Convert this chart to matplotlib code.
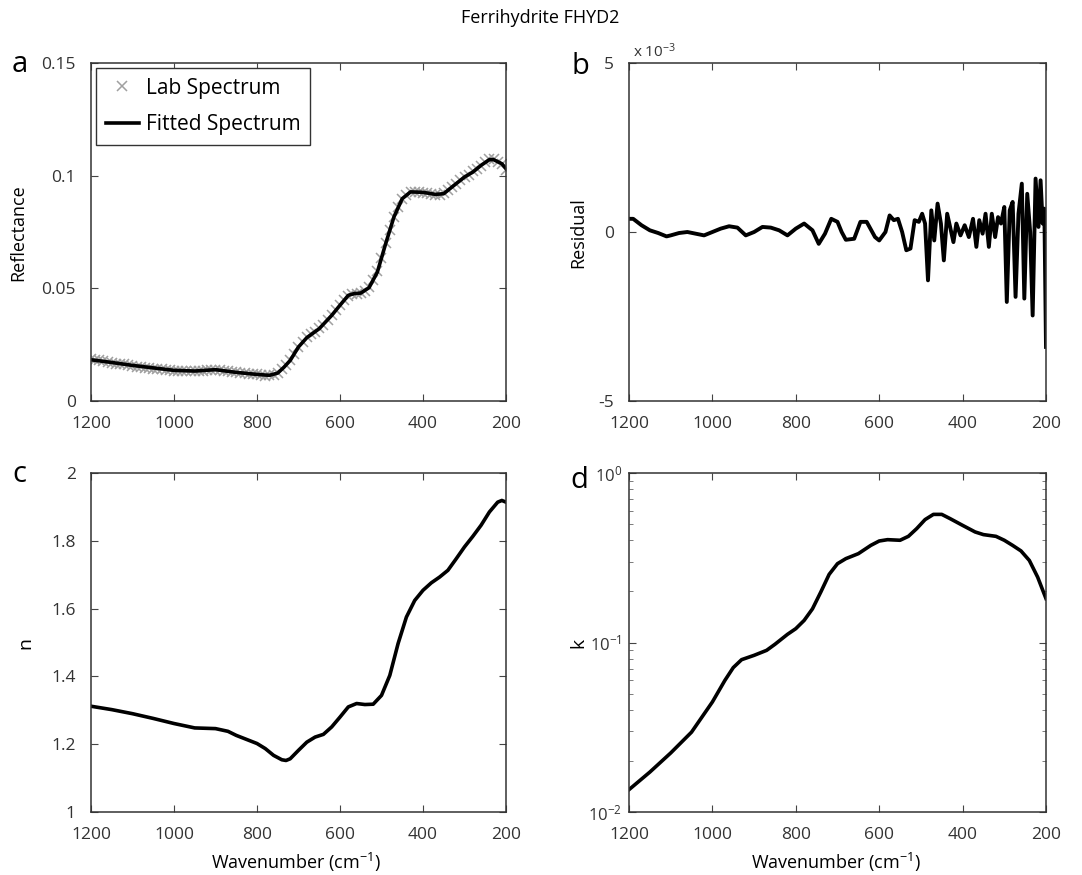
import matplotlib
matplotlib.use("Agg")
import matplotlib.pyplot as plt
from matplotlib.ticker import LogLocator, NullFormatter

plt.rcParams["font.family"] = ["Open Sans", "DejaVu Sans"]
plt.rcParams["mathtext.fontset"] = "custom"
plt.rcParams["mathtext.rm"] = "Open Sans"
plt.rcParams["mathtext.default"] = "regular"
plt.rcParams["axes.unicode_minus"] = False

# panel a: reflectance
wn_lab = [1200, 1190, 1180, 1170, 1160, 1150, 1140, 1130, 1120, 1110, 1100, 1090, 1080,
          1070, 1060, 1050, 1040, 1030, 1020, 1010, 1000, 990, 980, 970, 960, 950, 940,
          930, 920, 910, 900, 890, 880, 870, 860, 850, 840, 830, 820, 810, 800, 790,
          780, 770, 760, 750, 740, 730, 720, 710, 700, 690, 680, 670, 660, 650, 640,
          630, 620, 610, 600, 590, 580, 570, 560, 550, 540, 530, 520, 510, 500, 490,
          480, 470, 460, 450, 440, 430, 420, 410, 400, 390, 380, 370, 360, 350, 340,
          330, 320, 310, 300, 290, 280, 270, 260, 250, 240, 230, 220, 210, 200]
refl_lab = [0.0186, 0.0183, 0.0180, 0.0176, 0.0172, 0.0170, 0.0166, 0.0164, 0.0162,
            0.0159, 0.0157, 0.0153, 0.0150, 0.0148, 0.0146, 0.0144, 0.0142, 0.0140,
            0.0139, 0.0137, 0.0135, 0.0135, 0.0134, 0.0133, 0.0132, 0.0133, 0.0134,
            0.0135, 0.0136, 0.0138, 0.0138, 0.0137, 0.0135, 0.0132, 0.0129, 0.0127,
            0.0125, 0.0123, 0.0121, 0.0120, 0.0118, 0.0116, 0.0113, 0.0114, 0.0117,
            0.0125, 0.0140, 0.0160, 0.0182, 0.0210, 0.0238, 0.0262, 0.0283, 0.0296,
            0.0308, 0.0322, 0.0336, 0.0358, 0.0380, 0.0404, 0.0428, 0.0450, 0.0468,
            0.0474, 0.0476, 0.0479, 0.0486, 0.0504, 0.0535, 0.0575, 0.0635, 0.0700,
            0.0760, 0.0815, 0.0862, 0.0897, 0.0915, 0.0926, 0.0928, 0.0927, 0.0924,
            0.0921, 0.0918, 0.0916, 0.0914, 0.0921, 0.0935, 0.0950, 0.0965, 0.0980,
            0.0992, 0.1005, 0.1020, 0.1030, 0.1045, 0.1060, 0.1075, 0.1072, 0.1062,
            0.1050, 0.1025]

wn_fit = [1200, 1150, 1100, 1050, 1000, 950, 900, 850, 800, 770, 750, 735, 720, 700,
          680, 650, 620, 600, 580, 565, 550, 530, 510, 490, 470, 450, 430, 400, 370,
          350, 330, 300, 280, 260, 240, 230, 210, 200]
refl_fit = [0.0183, 0.0171, 0.0158, 0.0147, 0.0136, 0.0133, 0.0139, 0.0127, 0.0118,
            0.0114, 0.0124, 0.0150, 0.0180, 0.0240, 0.0281, 0.0321, 0.0380, 0.0425,
            0.0469, 0.0477, 0.0479, 0.0503, 0.0572, 0.0698, 0.0817, 0.0898, 0.0928,
            0.0926, 0.0917, 0.0920, 0.0950, 0.0994, 0.1016, 0.1046, 0.1071, 0.1071,
            0.1053, 0.1031]

# panel b: residual (units of 1e-3)
wn_res = [1200, 1190, 1170, 1150, 1130, 1110, 1100, 1080, 1060, 1040, 1020, 1000, 980,
          960, 940, 920, 900, 880, 860, 840, 820, 800, 780, 760, 745, 730, 715, 700,
          690, 680, 660, 645, 630, 610, 600, 585, 575, 565, 555, 545, 535, 525, 515,
          505, 497, 490, 483, 475, 468, 460, 452, 445, 437, 430, 422, 415, 405, 395,
          385, 375, 367, 360, 352, 345, 337, 330, 322, 315, 308, 300, 294, 287, 280,
          273, 266, 258, 252, 245, 238, 232, 225, 218, 213, 208, 204, 200]
residual = [0.39, 0.39, 0.20, 0.05, -0.03, -0.13, -0.10, -0.03, 0.0, -0.05, -0.10, 0.0,
            0.10, 0.17, 0.13, -0.10, 0.0, 0.15, 0.13, 0.05, -0.10, 0.10, 0.25, 0.05,
            -0.35, -0.05, 0.39, 0.30, 0.0, -0.23, -0.20, 0.30, 0.30, -0.15, -0.25, 0.0,
            0.49, 0.35, 0.39, 0.0, -0.54, -0.49, 0.35, 0.30, 0.54, 0.25, -1.43, 0.64,
            -0.25, 0.84, 0.25, -0.84, 0.54, 0.15, -0.30, 0.25, -0.10, 0.20, -0.15, 0.39,
            -0.44, 0.35, -0.05, 0.54, -0.44, 0.54, -0.15, 0.44, 0.25, 0.74, -2.07, 0.64,
            0.89, -1.92, 0.54, 1.43, -1.97, 1.13, 0.0, -2.47, 1.58, 0.15, 1.53, 0.25,
            0.69, -3.40]

# panel c: n
wn_n = [1200, 1150, 1100, 1050, 1000, 950, 900, 870, 850, 800, 780, 760, 740, 730, 720,
        700, 680, 660, 640, 620, 600, 580, 560, 540, 520, 500, 480, 460, 440, 420, 400,
        380, 360, 340, 320, 300, 280, 260, 240, 220, 210, 200]
n_vals = [1.312, 1.302, 1.290, 1.276, 1.261, 1.248, 1.246, 1.238, 1.226, 1.202, 1.187,
          1.167, 1.154, 1.152, 1.157, 1.182, 1.206, 1.221, 1.229, 1.251, 1.280, 1.310,
          1.320, 1.317, 1.318, 1.344, 1.403, 1.497, 1.575, 1.624, 1.654, 1.676, 1.693,
          1.713, 1.747, 1.782, 1.813, 1.846, 1.885, 1.914, 1.919, 1.914]

# panel d: k
wn_k = [1200, 1150, 1100, 1050, 1000, 970, 950, 930, 900, 870, 850, 820, 800, 780, 760,
        740, 720, 700, 680, 650, 620, 600, 580, 550, 530, 510, 490, 470, 450, 430, 400,
        370, 350, 320, 300, 280, 260, 240, 220, 200]
k_vals = [0.01355, 0.0172, 0.0223, 0.0296, 0.0446, 0.0598, 0.0711, 0.0792, 0.0840,
          0.0899, 0.0976, 0.1117, 0.1207, 0.135, 0.158, 0.1986, 0.2524, 0.2918, 0.3124,
          0.3343, 0.3743, 0.397, 0.4043, 0.401, 0.423, 0.470, 0.531, 0.570, 0.570,
          0.538, 0.491, 0.449, 0.433, 0.423, 0.401, 0.374, 0.347, 0.305, 0.243, 0.1815]

W, H = 1082, 875
fig = plt.figure(figsize=(W / 100, H / 100), dpi=100)


def px_axes(l, t, r, b):
    return fig.add_axes([l / W, 1 - b / H, (r - l) / W, (b - t) / H])


ax_a = px_axes(91, 63, 506, 401)
ax_b = px_axes(629, 63, 1046, 401)
ax_c = px_axes(91, 473, 506, 812)
ax_d = px_axes(629, 473, 1046, 812)

for ax in [ax_a, ax_b, ax_c, ax_d]:
    ax.set_xlim(1200, 200)
    ax.set_xticks([1200, 1000, 800, 600, 400, 200])
    ax.tick_params(direction="in", top=True, right=True, length=5, width=0.8,
                   labelsize=12.5, color="#444", labelcolor="#333")
    ax.tick_params(axis="x", pad=11)
    ax.tick_params(axis="y", pad=11)
    ax.tick_params(which="minor", direction="in", top=True, right=True, length=3,
                   width=0.6, color="#666")
    for s in ax.spines.values():
        s.set_linewidth(1.1)
        s.set_color("#333")

ax_a.plot(wn_lab, refl_lab, linestyle="none", marker="x", color="#a0a0a0",
          markersize=6.5, markeredgewidth=1.1, label="Lab Spectrum")
ax_a.plot(wn_fit, refl_fit, color="black", linewidth=2.6, label="Fitted Spectrum")
ax_a.set_ylim(0, 0.15)
ax_a.set_yticks([0, 0.05, 0.1, 0.15])
ax_a.set_yticklabels(["0", "0.05", "0.1", "0.15"])
leg = ax_a.legend(loc="upper left", fontsize=15, fancybox=False, framealpha=1,
                  edgecolor="#333", borderaxespad=0.25, handlelength=1.6,
                  handletextpad=0.35, borderpad=0.45, labelspacing=0.75)
leg.get_frame().set_linewidth(1.0)

ax_b.plot(wn_res, residual, color="black", linewidth=2.8)
ax_b.set_ylim(-5, 5)
ax_b.set_yticks([-5, 0, 5])
fig.text(633 / W, 1 - 52 / H, "x 10$^{-3}$", fontsize=11, color="#333",
         va="center", ha="left")

ax_c.plot(wn_n, n_vals, color="black", linewidth=2.6)
ax_c.set_ylim(1, 2)
ax_c.set_yticks([1, 1.2, 1.4, 1.6, 1.8, 2])
ax_c.set_yticklabels(["1", "1.2", "1.4", "1.6", "1.8", "2"])

ax_d.plot(wn_k, k_vals, color="black", linewidth=2.6)
ax_d.set_yscale("log")
ax_d.set_ylim(0.01, 1)
ax_d.yaxis.set_minor_locator(LogLocator(base=10, subs=range(2, 10)))
ax_d.yaxis.set_minor_formatter(NullFormatter())
ax_d.tick_params(axis="y", pad=5, labelsize=12)

# labels
fig.text(540 / W, 1 - 18 / H, "Ferrihydrite FHYD2", fontsize=13, ha="center", va="center")
fig.text(18 / W, 1 - 233 / H, "Reflectance", fontsize=13, rotation=90, ha="center", va="center")
fig.text(578 / W, 1 - 233 / H, "Residual", fontsize=13, rotation=90, ha="center", va="center")
fig.text(25 / W, 1 - 643 / H, "n", fontsize=14, rotation=90, ha="center", va="center")
fig.text(578 / W, 1 - 643 / H, "k", fontsize=14, rotation=90, ha="center", va="center")
fig.text(296 / W, 1 - 862 / H, "Wavenumber (cm$^{-1}$)", fontsize=13, ha="center", va="center")
fig.text(836 / W, 1 - 862 / H, "Wavenumber (cm$^{-1}$)", fontsize=13, ha="center", va="center")

for letter, x, y in [("a", 20, 64), ("b", 580, 66), ("c", 19, 475), ("d", 579, 481)]:
    fig.text(x / W, 1 - y / H, letter, fontsize=21, ha="center", va="center")

fig.savefig("out.png", dpi=100)
